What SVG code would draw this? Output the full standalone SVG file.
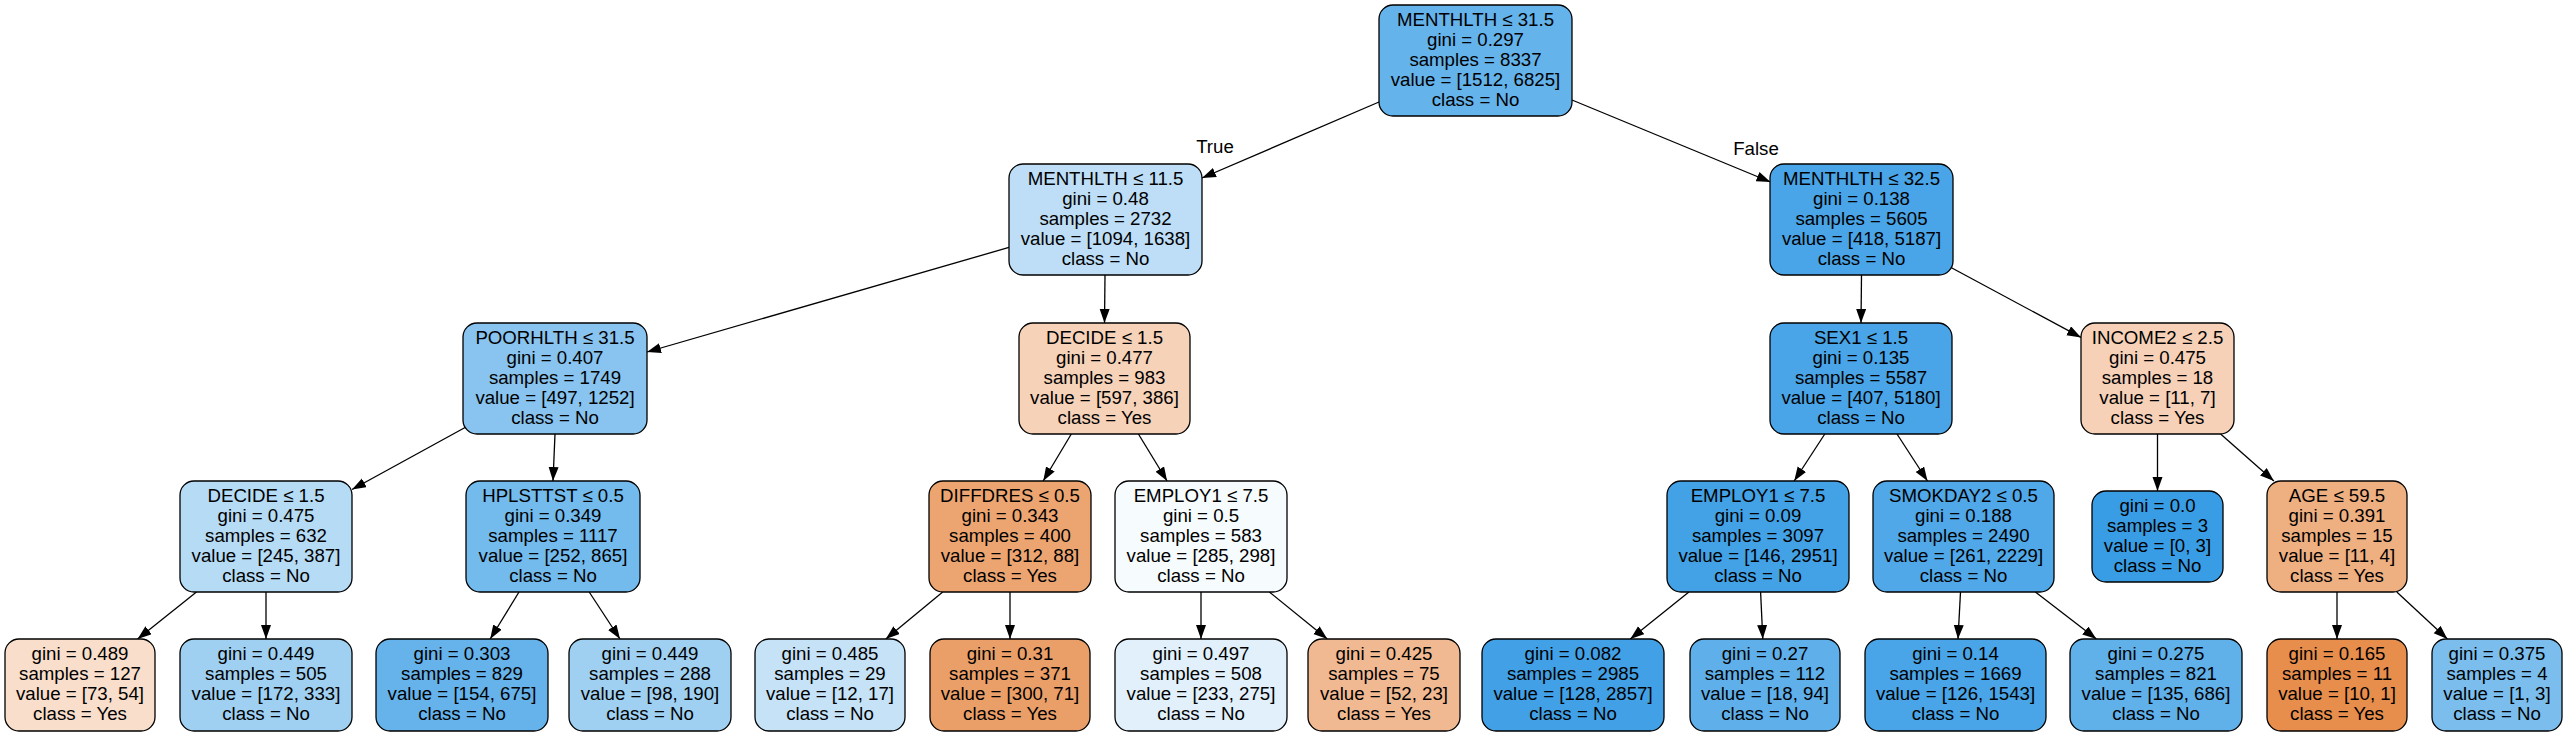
<svg xmlns="http://www.w3.org/2000/svg" width="2565" height="736" viewBox="0 0 2565 736">
<style>
.n rect{stroke:#000;stroke-width:1.3}
text{font-family:"Liberation Sans",Arial,Helvetica,sans-serif;font-size:18.67px;fill:#000;text-anchor:middle}
.e line{stroke:#000;stroke-width:1.3;marker-end:url(#ah)}
</style>
<defs>
<marker id="ah" markerUnits="userSpaceOnUse" markerWidth="15" markerHeight="11" refX="14" refY="5" orient="auto">
<path d="M0,0 L14,5 L0,10 z" fill="#000"/>
</marker>
</defs>
<rect width="2565" height="736" fill="#fff"/>
<g id="edges" class="e">
<line x1="1379" y1="102" x2="1202" y2="178"/>
<line x1="1572" y1="100" x2="1770.5" y2="182"/>
<line x1="1009" y1="247.4" x2="647" y2="352"/>
<line x1="1105" y1="275" x2="1104.5" y2="323"/>
<line x1="1861.5" y1="275" x2="1861" y2="323"/>
<line x1="1951" y1="267.5" x2="2081" y2="337.4"/>
<line x1="466" y1="427" x2="352" y2="489.5"/>
<line x1="555" y1="434" x2="553" y2="481"/>
<line x1="1071.3" y1="434" x2="1043.2" y2="481"/>
<line x1="1138.4" y1="434" x2="1167.1" y2="481"/>
<line x1="1824.8" y1="434" x2="1794.2" y2="481"/>
<line x1="1897" y1="434" x2="1927.5" y2="481"/>
<line x1="2157.5" y1="434" x2="2157.5" y2="491"/>
<line x1="2220.6" y1="434" x2="2273.9" y2="481"/>
<line x1="196.5" y1="592" x2="137.6" y2="639"/>
<line x1="266" y1="592" x2="266" y2="639"/>
<line x1="519" y1="592" x2="490.2" y2="639"/>
<line x1="589.2" y1="592" x2="620" y2="639"/>
<line x1="942.7" y1="592" x2="885.8" y2="639"/>
<line x1="1010" y1="592" x2="1010" y2="639"/>
<line x1="1201" y1="592" x2="1201" y2="639"/>
<line x1="1269.4" y1="592" x2="1327.3" y2="639"/>
<line x1="1688.9" y1="592" x2="1630.3" y2="639"/>
<line x1="1760.6" y1="592" x2="1762.8" y2="639"/>
<line x1="1960.5" y1="592" x2="1958" y2="639"/>
<line x1="2035.4" y1="592" x2="2096.4" y2="639"/>
<line x1="2337" y1="592" x2="2337" y2="639"/>
<line x1="2396.8" y1="592" x2="2447.4" y2="639"/>
<text x="1215" y="153">True</text>
<text x="1756" y="155">False</text>
</g>
<g id="n0" class="n"><rect x="1379" y="5" width="193" height="111" rx="14" fill="#65b3eb"/>
<text x="1475.5" y="25.5">MENTHLTH ≤ 31.5</text><text x="1475.5" y="45.5">gini = 0.297</text><text x="1475.5" y="65.5">samples = 8337</text><text x="1475.5" y="85.5">value = [1512, 6825]</text><text x="1475.5" y="105.5">class = No</text></g>
<g id="n1" class="n"><rect x="1009" y="164" width="193" height="111" rx="14" fill="#bddef6"/>
<text x="1105.5" y="184.5">MENTHLTH ≤ 11.5</text><text x="1105.5" y="204.5">gini = 0.48</text><text x="1105.5" y="224.5">samples = 2732</text><text x="1105.5" y="244.5">value = [1094, 1638]</text><text x="1105.5" y="264.5">class = No</text></g>
<g id="n2" class="n"><rect x="1770" y="164" width="183" height="111" rx="14" fill="#49a5e7"/>
<text x="1861.5" y="184.5">MENTHLTH ≤ 32.5</text><text x="1861.5" y="204.5">gini = 0.138</text><text x="1861.5" y="224.5">samples = 5605</text><text x="1861.5" y="244.5">value = [418, 5187]</text><text x="1861.5" y="264.5">class = No</text></g>
<g id="n3" class="n"><rect x="463" y="323" width="184" height="111" rx="14" fill="#88c4ef"/>
<text x="555" y="343.5">POORHLTH ≤ 31.5</text><text x="555" y="363.5">gini = 0.407</text><text x="555" y="383.5">samples = 1749</text><text x="555" y="403.5">value = [497, 1252]</text><text x="555" y="423.5">class = No</text></g>
<g id="n4" class="n"><rect x="1019" y="323" width="171" height="111" rx="14" fill="#f6d2b9"/>
<text x="1104.5" y="343.5">DECIDE ≤ 1.5</text><text x="1104.5" y="363.5">gini = 0.477</text><text x="1104.5" y="383.5">samples = 983</text><text x="1104.5" y="403.5">value = [597, 386]</text><text x="1104.5" y="423.5">class = Yes</text></g>
<g id="n5" class="n"><rect x="1770" y="323" width="182" height="111" rx="14" fill="#49a5e7"/>
<text x="1861" y="343.5">SEX1 ≤ 1.5</text><text x="1861" y="363.5">gini = 0.135</text><text x="1861" y="383.5">samples = 5587</text><text x="1861" y="403.5">value = [407, 5180]</text><text x="1861" y="423.5">class = No</text></g>
<g id="n6" class="n"><rect x="2081" y="323" width="153" height="111" rx="14" fill="#f6d1b7"/>
<text x="2157.5" y="343.5">INCOME2 ≤ 2.5</text><text x="2157.5" y="363.5">gini = 0.475</text><text x="2157.5" y="383.5">samples = 18</text><text x="2157.5" y="403.5">value = [11, 7]</text><text x="2157.5" y="423.5">class = Yes</text></g>
<g id="n7" class="n"><rect x="180" y="481" width="172" height="111" rx="14" fill="#b6dbf5"/>
<text x="266" y="501.5">DECIDE ≤ 1.5</text><text x="266" y="521.5">gini = 0.475</text><text x="266" y="541.5">samples = 632</text><text x="266" y="561.5">value = [245, 387]</text><text x="266" y="581.5">class = No</text></g>
<g id="n8" class="n"><rect x="466" y="481" width="174" height="111" rx="14" fill="#73baed"/>
<text x="553" y="501.5">HPLSTTST ≤ 0.5</text><text x="553" y="521.5">gini = 0.349</text><text x="553" y="541.5">samples = 1117</text><text x="553" y="561.5">value = [252, 865]</text><text x="553" y="581.5">class = No</text></g>
<g id="n9" class="n"><rect x="929" y="481" width="162" height="111" rx="14" fill="#eca571"/>
<text x="1010" y="501.5">DIFFDRES ≤ 0.5</text><text x="1010" y="521.5">gini = 0.343</text><text x="1010" y="541.5">samples = 400</text><text x="1010" y="561.5">value = [312, 88]</text><text x="1010" y="581.5">class = Yes</text></g>
<g id="n10" class="n"><rect x="1115" y="481" width="172" height="111" rx="14" fill="#f6fbfe"/>
<text x="1201" y="501.5">EMPLOY1 ≤ 7.5</text><text x="1201" y="521.5">gini = 0.5</text><text x="1201" y="541.5">samples = 583</text><text x="1201" y="561.5">value = [285, 298]</text><text x="1201" y="581.5">class = No</text></g>
<g id="n11" class="n"><rect x="1667" y="481" width="182" height="111" rx="14" fill="#43a2e6"/>
<text x="1758" y="501.5">EMPLOY1 ≤ 7.5</text><text x="1758" y="521.5">gini = 0.09</text><text x="1758" y="541.5">samples = 3097</text><text x="1758" y="561.5">value = [146, 2951]</text><text x="1758" y="581.5">class = No</text></g>
<g id="n12" class="n"><rect x="1873" y="481" width="181" height="111" rx="14" fill="#50a8e8"/>
<text x="1963.5" y="501.5">SMOKDAY2 ≤ 0.5</text><text x="1963.5" y="521.5">gini = 0.188</text><text x="1963.5" y="541.5">samples = 2490</text><text x="1963.5" y="561.5">value = [261, 2229]</text><text x="1963.5" y="581.5">class = No</text></g>
<g id="n13" class="n"><rect x="2092" y="491" width="131" height="91" rx="14" fill="#399de5"/>
<text x="2157.5" y="511.5">gini = 0.0</text><text x="2157.5" y="531.5">samples = 3</text><text x="2157.5" y="551.5">value = [0, 3]</text><text x="2157.5" y="571.5">class = No</text></g>
<g id="n14" class="n"><rect x="2267" y="481" width="140" height="111" rx="14" fill="#eeaf81"/>
<text x="2337" y="501.5">AGE ≤ 59.5</text><text x="2337" y="521.5">gini = 0.391</text><text x="2337" y="541.5">samples = 15</text><text x="2337" y="561.5">value = [11, 4]</text><text x="2337" y="581.5">class = Yes</text></g>
<g id="l1" class="n"><rect x="5" y="639" width="150" height="92" rx="14" fill="#f8decb"/>
<text x="80" y="660">gini = 0.489</text><text x="80" y="680">samples = 127</text><text x="80" y="700">value = [73, 54]</text><text x="80" y="720">class = Yes</text></g>
<g id="l2" class="n"><rect x="180" y="639" width="172" height="92" rx="14" fill="#9fd0f2"/>
<text x="266" y="660">gini = 0.449</text><text x="266" y="680">samples = 505</text><text x="266" y="700">value = [172, 333]</text><text x="266" y="720">class = No</text></g>
<g id="l3" class="n"><rect x="376" y="639" width="172" height="92" rx="14" fill="#66b3eb"/>
<text x="462" y="660">gini = 0.303</text><text x="462" y="680">samples = 829</text><text x="462" y="700">value = [154, 675]</text><text x="462" y="720">class = No</text></g>
<g id="l4" class="n"><rect x="569" y="639" width="162" height="92" rx="14" fill="#9fd0f2"/>
<text x="650" y="660">gini = 0.449</text><text x="650" y="680">samples = 288</text><text x="650" y="700">value = [98, 190]</text><text x="650" y="720">class = No</text></g>
<g id="l5" class="n"><rect x="755" y="639" width="150" height="92" rx="14" fill="#c5e2f7"/>
<text x="830" y="660">gini = 0.485</text><text x="830" y="680">samples = 29</text><text x="830" y="700">value = [12, 17]</text><text x="830" y="720">class = No</text></g>
<g id="l6" class="n"><rect x="930" y="639" width="160" height="92" rx="14" fill="#eb9f68"/>
<text x="1010" y="660">gini = 0.31</text><text x="1010" y="680">samples = 371</text><text x="1010" y="700">value = [300, 71]</text><text x="1010" y="720">class = Yes</text></g>
<g id="l7" class="n"><rect x="1115" y="639" width="172" height="92" rx="14" fill="#e1f0fb"/>
<text x="1201" y="660">gini = 0.497</text><text x="1201" y="680">samples = 508</text><text x="1201" y="700">value = [233, 275]</text><text x="1201" y="720">class = No</text></g>
<g id="l8" class="n"><rect x="1308" y="639" width="152" height="92" rx="14" fill="#f1b991"/>
<text x="1384" y="660">gini = 0.425</text><text x="1384" y="680">samples = 75</text><text x="1384" y="700">value = [52, 23]</text><text x="1384" y="720">class = Yes</text></g>
<g id="l9" class="n"><rect x="1482" y="639" width="182" height="92" rx="14" fill="#42a1e6"/>
<text x="1573" y="660">gini = 0.082</text><text x="1573" y="680">samples = 2985</text><text x="1573" y="700">value = [128, 2857]</text><text x="1573" y="720">class = No</text></g>
<g id="l10" class="n"><rect x="1690" y="639" width="150" height="92" rx="14" fill="#5fb0ea"/>
<text x="1765" y="660">gini = 0.27</text><text x="1765" y="680">samples = 112</text><text x="1765" y="700">value = [18, 94]</text><text x="1765" y="720">class = No</text></g>
<g id="l11" class="n"><rect x="1865" y="639" width="181" height="92" rx="14" fill="#49a5e7"/>
<text x="1955.5" y="660">gini = 0.14</text><text x="1955.5" y="680">samples = 1669</text><text x="1955.5" y="700">value = [126, 1543]</text><text x="1955.5" y="720">class = No</text></g>
<g id="l12" class="n"><rect x="2070" y="639" width="172" height="92" rx="14" fill="#60b0ea"/>
<text x="2156" y="660">gini = 0.275</text><text x="2156" y="680">samples = 821</text><text x="2156" y="700">value = [135, 686]</text><text x="2156" y="720">class = No</text></g>
<g id="l13" class="n"><rect x="2267" y="639" width="140" height="92" rx="14" fill="#e88e4d"/>
<text x="2337" y="660">gini = 0.165</text><text x="2337" y="680">samples = 11</text><text x="2337" y="700">value = [10, 1]</text><text x="2337" y="720">class = Yes</text></g>
<g id="l14" class="n"><rect x="2432" y="639" width="130" height="92" rx="14" fill="#7bbeee"/>
<text x="2497" y="660">gini = 0.375</text><text x="2497" y="680">samples = 4</text><text x="2497" y="700">value = [1, 3]</text><text x="2497" y="720">class = No</text></g>
</svg>
